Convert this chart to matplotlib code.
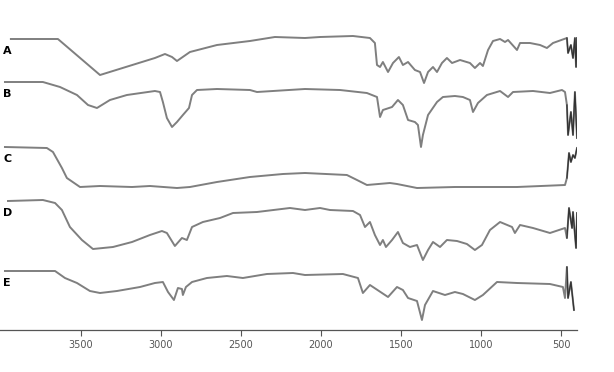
import matplotlib
matplotlib.use("Agg")
import matplotlib.pyplot as plt

# FTIR spectra, wavenumber (cm-1) vs. offset transmittance (arbitrary units)
wn_a = [3938, 3644, 3381, 3038, 2975, 2931, 2900, 2819, 2650, 2444, 2288, 2100, 2006,
        1800, 1694, 1663, 1650, 1631, 1613, 1581, 1550, 1513, 1488, 1456, 1413, 1381,
        1356, 1331, 1300, 1275, 1244, 1213, 1181, 1131, 1069, 1038, 1006, 988, 956, 925,
        881, 850, 831, 775, 756, 694, 631, 588, 550, 463, 456, 438, 425, 413, 406, 400]
t_a = [291, 291, 255, 272, 276, 273, 269, 278, 285, 289, 293, 292, 293,
       294, 292, 287, 265, 263, 268, 258, 267, 273, 265, 268, 260, 258,
       247, 258, 263, 258, 267, 272, 267, 270, 267, 262, 267, 264, 280, 289,
       291, 288, 290, 280, 287, 287, 285, 282, 287, 292, 277, 285, 272, 292, 263, 292]

wn_b = [3975, 3738, 3631, 3525, 3456, 3400, 3319, 3213, 3038, 3006, 2988, 2963, 2931,
        2900, 2863, 2825, 2806, 2775, 2650, 2444, 2400, 2100, 1881, 1713, 1650, 1631,
        1613, 1556, 1519, 1488, 1456, 1413, 1394, 1375, 1363, 1331, 1275, 1238, 1163,
        1113, 1069, 1050, 1019, 963, 881, 831, 800, 675, 569, 494, 475, 463, 456, 438,
        425, 413, 400]
t_b = [248, 248, 243, 235, 225, 222, 230, 235, 239, 238, 228, 212, 203,
       208, 215, 222, 235, 240, 241, 240, 238, 241, 240, 237, 233, 213,
       220, 223, 230, 225, 210, 208, 205, 183, 195, 215, 228, 233, 234,
       233, 230, 218, 227, 235, 239, 233, 238, 239, 237, 240, 238, 225, 195, 218,
       195, 238, 192]

wn_c = [3975, 3713, 3675, 3619, 3588, 3506, 3381, 3181, 3069, 2900, 2819, 2650, 2444,
        2238, 2100, 1838, 1775, 1713, 1569, 1525, 1400, 1163, 775, 475, 463, 450, 438,
        425, 413, 400]
t_c = [183, 182, 178, 162, 152, 143, 144, 143, 144, 142, 143, 148, 153,
       156, 157, 155, 150, 145, 147, 146, 142, 143, 143, 145, 152, 177, 168,
       175, 172, 182]

wn_d = [3956, 3738, 3662, 3619, 3569, 3494, 3425, 3300, 3181, 3069, 2994, 2963, 2913,
        2869, 2838, 2806, 2738, 2631, 2550, 2400, 2194, 2100, 2006, 1944, 1800, 1756,
        1725, 1694, 1663, 1631, 1613, 1594, 1556, 1519, 1488, 1444, 1400, 1363, 1331,
        1300, 1256, 1213, 1150, 1088, 1038, 994, 944, 881, 806, 788, 756, 675, 569, 475,
        463, 450, 431, 425, 406, 400]
t_d = [129, 130, 127, 120, 103, 90, 81, 83, 88, 95, 99, 97, 84,
       92, 90, 103, 108, 112, 117, 118, 122, 120, 122, 120, 119, 115,
       103, 108, 95, 85, 90, 83, 90, 98, 87, 83, 85, 70, 80,
       88, 83, 90, 89, 86, 80, 85, 100, 108, 103, 97, 105, 102, 97, 102,
       92, 122, 102, 118, 82, 117]

wn_e = [3975, 3662, 3600, 3525, 3444, 3381, 3275, 3131, 3038, 2988, 2956, 2919, 2894,
        2869, 2863, 2844, 2806, 2713, 2588, 2488, 2338, 2175, 2100, 1863, 1769, 1738,
        1694, 1581, 1525, 1488, 1456, 1400, 1369, 1350, 1300, 1225, 1163, 1113, 1038,
        988, 900, 775, 569, 488, 475, 463, 456, 438, 419]
t_e = [59, 59, 52, 47, 39, 37, 39, 43, 47, 48, 38, 30, 42,
       41, 35, 43, 48, 52, 54, 52, 56, 57, 55, 56, 52, 37,
       45, 33, 43, 40, 32, 29, 10, 25, 39, 35, 38, 36, 30,
       35, 48, 47, 46, 43, 32, 63, 32, 48, 20]

series = [("A", wn_a, t_a), ("B", wn_b, t_b), ("C", wn_c, t_c),
          ("D", wn_d, t_d), ("E", wn_e, t_e)]
xticks = [3500, 3000, 2500, 2000, 1500, 1000, 500]

fig = plt.figure(figsize=(6.14, 3.72), dpi=100)
ax = fig.add_axes([0.0, 42 / 372, 577 / 614, 310 / 372])

for name, wn, t in series:
    ax.plot(wn, t, color="#7f7f7f", lw=1.4, solid_joinstyle="round")
    # the low-wavenumber end is drawn darker in the original
    end = [i for i, w in enumerate(wn) if w <= 470]
    if end:
        i0 = end[0]
        ax.plot(wn[i0:], t[i0:], color="#333333", lw=0.9)
    ax.text(3987, t[0] - 12, name, fontsize=8, fontweight="bold",
            ha="left", va="center", color="black")

ax.set_xlim(4006, 400)
ax.set_ylim(0, 310)
ax.set_xticks(xticks)
ax.set_xticklabels([str(x) for x in xticks])
ax.tick_params(axis="x", direction="out", length=4, width=0.8, colors="#555555",
               labelsize=7, pad=3)
ax.set_yticks([])
for side in ["top", "right", "left"]:
    ax.spines[side].set_visible(False)
ax.spines["bottom"].set_color("#555555")
ax.spines["bottom"].set_linewidth(0.9)

fig.savefig("out.png", dpi=100)
